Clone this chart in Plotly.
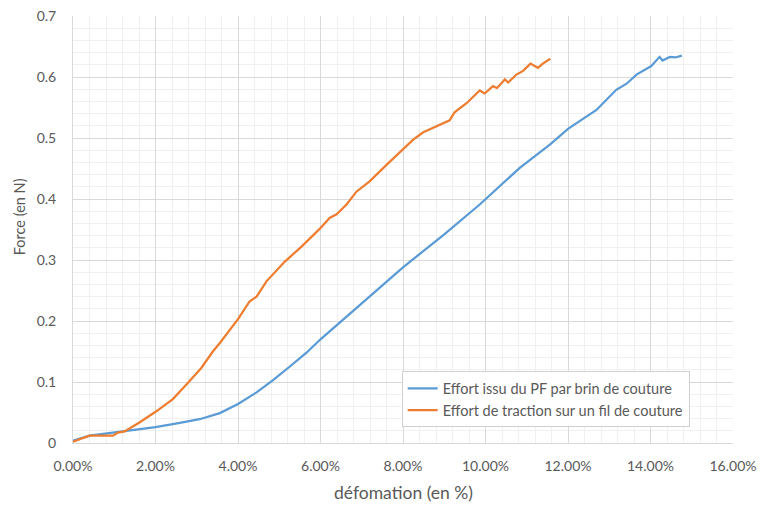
import plotly.graph_objects as go

# ---- data ----
blue_name = "Effort issu du PF par brin de couture"
blue_x = [0, 0.4, 1.2, 2.0, 2.59, 3.07, 3.56, 4.0, 4.45, 4.85, 5.25, 5.66, 6.0, 6.55,
          7.0, 8.0, 9.0, 9.86, 10.83, 11.56, 12.0, 12.69, 13.17, 13.42, 13.66, 14.02,
          14.22, 14.29, 14.47, 14.6, 14.76]
blue_y = [0.004, 0.012, 0.019, 0.026, 0.033, 0.039, 0.049, 0.064, 0.083, 0.103, 0.125,
          0.148, 0.170, 0.203, 0.229, 0.288, 0.342, 0.391, 0.451, 0.489, 0.515, 0.546,
          0.579, 0.589, 0.604, 0.618, 0.633, 0.627, 0.633, 0.632, 0.635]

orange_name = "Effort de traction sur un fil de couture"
orange_x = [0, 0.4, 0.97, 1.09, 1.25, 1.62, 2.02, 2.42, 2.75, 3.11, 3.39, 3.56, 4.0,
            4.28, 4.45, 4.69, 5.13, 5.54, 5.98, 6.22, 6.39, 6.63, 6.87, 7.19, 7.6, 8.0,
            8.24, 8.48, 8.65, 8.89, 9.05, 9.13, 9.25, 9.54, 9.86, 9.98, 10.18, 10.28,
            10.47, 10.55, 10.75, 10.91, 11.09, 11.27, 11.39, 11.57]
orange_y = [0.002, 0.012, 0.012, 0.017, 0.019, 0.034, 0.052, 0.072, 0.096, 0.123, 0.150,
            0.164, 0.203, 0.232, 0.240, 0.265, 0.297, 0.322, 0.351, 0.369, 0.375, 0.391,
            0.412, 0.429, 0.456, 0.482, 0.497, 0.509, 0.514, 0.522, 0.527, 0.529, 0.542,
            0.557, 0.578, 0.573, 0.585, 0.582, 0.596, 0.591, 0.604, 0.610, 0.622, 0.615,
            0.622, 0.630]

x_tickvals = [0, 2, 4, 6, 8, 10, 12, 14, 16]
x_ticktext = ["0.00%", "2.00%", "4.00%", "6.00%", "8.00%", "10.00%", "12.00%",
              "14.00%", "16.00%"]
y_tickvals = [0, 0.1, 0.2, 0.3, 0.4, 0.5, 0.6, 0.7]
y_ticktext = ["0", "0.1", "0.2", "0.3", "0.4", "0.5", "0.6", "0.7"]
x_title = "défomation (en %)"
y_title = "Force (en N)"

FONT = "Lato, 'Open Sans', sans-serif"
GREY = "#595959"
CLEAR = "rgba(0,0,0,0)"

fig = go.Figure()
fig.add_trace(go.Scatter(x=blue_x, y=blue_y, mode="lines", name=blue_name,
                         line=dict(color="#5B9BD5", width=2.25)))
fig.add_trace(go.Scatter(x=orange_x, y=orange_y, mode="lines", name=orange_name,
                         line=dict(color="#ED7D31", width=2.25)))

fig.update_layout(
    width=761, height=505,
    margin=dict(l=73, r=28, t=16, b=62),
    paper_bgcolor="white", plot_bgcolor="white",
    font=dict(family=FONT, color=GREY, size=13),
    showlegend=True,
    legend=dict(x=0.498, y=0.1676, xanchor="left", yanchor="top",
                bgcolor="white", bordercolor="#d0d0d0", borderwidth=1,
                font=dict(size=14.5, color=GREY), tracegroupgap=2),
    annotations=[
        dict(text=x_title, xref="paper", yref="paper", x=0.5, y=-0.117,
             xanchor="center", yanchor="middle", showarrow=False,
             font=dict(size=17.5, color=GREY)),
        dict(text=y_title, xref="paper", yref="paper", x=-0.081, y=0.53,
             xanchor="center", yanchor="middle", showarrow=False, textangle=-90,
             font=dict(size=14.5, color=GREY)),
    ],
)
fig.update_xaxes(
    range=[0, 16], tickvals=x_tickvals, ticktext=x_ticktext, automargin=False,
    showgrid=True, gridcolor="#d9d9d9", gridwidth=1,
    minor=dict(dtick=0.4, showgrid=True, gridcolor="#f0f0f0", gridwidth=1),
    zeroline=False, showline=True, linecolor="#d9d9d9", linewidth=1,
    ticks="outside", ticklen=10, tickcolor=CLEAR,
    tickfont=dict(size=14, color=GREY),
)
fig.update_yaxes(
    range=[0, 0.7], tickvals=y_tickvals, ticktext=y_ticktext, automargin=False,
    showgrid=True, gridcolor="#d9d9d9", gridwidth=1,
    minor=dict(dtick=0.02, showgrid=True, gridcolor="#f0f0f0", gridwidth=1),
    zeroline=False, showline=True, linecolor="#d9d9d9",
    ticks="outside", ticklen=13, tickcolor=CLEAR,
    tickfont=dict(size=14, color=GREY),
)
fig.write_html("out.html", config={"displayModeBar": False},
               post_script="document.body.style.margin='0';document.body.style.padding='0';")
